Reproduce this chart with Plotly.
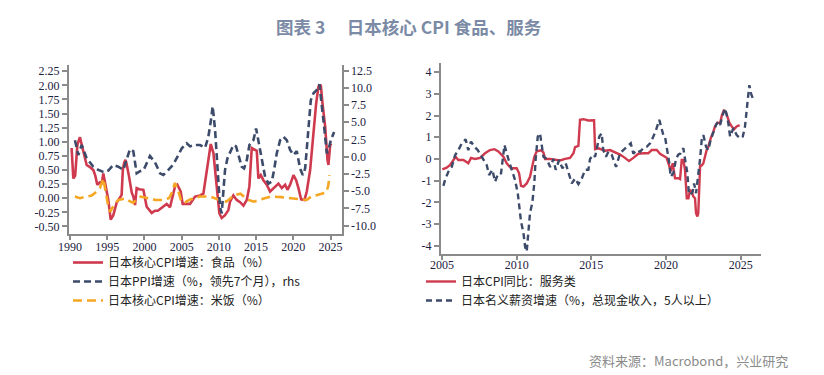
import plotly.graph_objects as go

W, H = 824, 375

# ---------------- Left chart data ----------------
food_x = [1990.22, 1990.45, 1990.7, 1991.0, 1991.34, 1991.7, 1992.24, 1992.7, 1993.14, 1993.4, 1993.67,
          1994.0, 1994.24, 1994.48, 1994.7, 1995.15, 1995.47, 1995.82, 1996.27, 1996.6, 1996.94, 1997.1,
          1997.26, 1997.45, 1997.62, 1997.9, 1998.3, 1998.51, 1998.74, 1998.96, 1999.3, 1999.86, 2000.3,
          2000.98, 2001.42, 2001.8, 2002.32, 2002.99, 2003.44, 2003.89, 2004.11, 2004.42, 2004.87, 2005.14,
          2005.68, 2006.13, 2006.8, 2007.47, 2007.92, 2008.37, 2008.91, 2009.27, 2009.71, 2010.07, 2010.38,
          2010.83, 2011.28, 2011.5, 2011.95, 2012.4, 2012.85, 2013.3, 2013.75, 2014.1, 2014.42, 2014.73,
          2015.09, 2015.31, 2015.63, 2015.98, 2016.43, 2016.88, 2017.33, 2018.0, 2018.45, 2018.9, 2019.21,
          2019.57, 2020.02, 2020.38, 2020.69, 2021.05, 2021.5, 2021.81, 2022.26, 2022.71, 2023.07, 2023.38,
          2023.69, 2023.92, 2024.28, 2024.59, 2024.72, 2024.95, 2025.1]
food_y = [0.89, 0.35, 0.40, 0.95, 1.08, 0.90, 0.59, 0.55, 0.50, 0.40, 0.24,
          0.28, 0.25, 0.44, 0.30, -0.03, -0.38, -0.30, -0.08, 0.00, 0.06, 0.50,
          0.62, 0.68, 0.60, 0.41, 0.10, 0.03, -0.12, 0.18, 0.16, 0.15, -0.15,
          -0.26, -0.22, -0.22, -0.16, -0.10, -0.16, 0.10, 0.21, 0.24, 0.12, -0.10,
          -0.10, -0.10, 0.03, 0.05, 0.08, 0.50, 0.96, 0.80, 0.15, -0.27, -0.35,
          -0.30, -0.21, -0.06, 0.05, -0.03, -0.07, -0.13, -0.03, 0.21, 0.89, 0.86,
          0.84, 0.35, 0.41, 0.32, 0.24, 0.12, 0.18, 0.26, 0.18, 0.24, 0.15,
          0.24, 0.41, 0.32, 0.18, -0.02, -0.03, 0.12, 0.50, 1.15, 1.68, 1.98,
          2.01, 1.68, 1.27, 0.68, 0.59, 0.94, 0.97]

ppi_x = [1990.67, 1991.12, 1991.57, 1992.24, 1993.14, 1993.81, 1994.48, 1995.15, 1995.82, 1996.49, 1997.17,
         1997.62, 1998.06, 1998.51, 1998.96, 1999.41, 1999.9, 2000.75, 2001.42, 2002.1, 2002.54, 2003.22,
         2003.89, 2004.56, 2005.0, 2005.68, 2006.13, 2006.8, 2007.47, 2008.15, 2008.59, 2008.91, 2009.17,
         2009.49, 2009.8, 2010.16, 2010.38, 2010.61, 2010.83, 2011.15, 2011.5, 2011.95, 2012.31, 2012.63,
         2013.07, 2013.39, 2013.75, 2014.1, 2014.64, 2015.0, 2015.31, 2015.76, 2016.21, 2016.66, 2017.11,
         2017.42, 2017.78, 2018.23, 2018.67, 2019.12, 2019.57, 2020.02, 2020.47, 2020.91, 2021.27, 2021.59,
         2021.81, 2022.04, 2022.35, 2022.71, 2023.16, 2023.51, 2023.83, 2024.14, 2024.5, 2024.72, 2025.04,
         2025.48]
ppi_y = [2.4, 0.25, 1.7, -0.2, -1.45, -1.9, -2.2, -2.0, -1.2, -1.45, -1.9,
         -0.5, 1.1, 0.8, -2.4, -2.1, -1.9, 0.1, -0.8, -2.4, -2.65, -1.9,
         -1.1, 0.25, 1.2, 1.95, 1.5, 1.7, 1.7, 1.3, 2.9, 5.1, 7.3,
         3.9, -1.9, -7.3, -8.2, -5.3, -1.9, -0.25, 0.7, 1.7, 1.5, 0.25,
         -1.45, -1.7, -0.5, 1.7, 2.4, 4.1, 2.4, -0.5, -2.9, -3.9, -3.6,
         -1.9, 0.5, 2.4, 2.9, 2.4, 1.0, 0.25, 0.8, -1.7, -2.65, -1.7,
         1.0, 4.35, 8.2, 9.2, 9.7, 10.5, 7.7, 4.35, 0.5, 1.0, 2.4,
         3.6]

rice_x = [1990.67, 1991.34, 1992.24, 1992.92, 1993.6, 1994.03, 1994.48, 1994.84, 1995.15, 1995.4, 1996.0,
          1996.5, 1997.5, 1998.0, 1998.5, 1999.5, 2000.5, 2001.5, 2002.5, 2003.3, 2003.7, 2004.1,
          2004.5, 2005.0, 2005.5, 2006.13, 2007.47, 2008.8, 2010.1, 2011.0, 2012.0, 2012.9, 2013.8,
          2014.7, 2015.6, 2017.0, 2018.4, 2019.7, 2021.1, 2021.8, 2022.4, 2023.1, 2024.0, 2024.4,
          2024.7, 2024.85]
rice_y = [0.03, 0.0, 0.03, 0.05, 0.12, 0.18, 0.35, 0.08, -0.15, -0.24, -0.10,
          -0.03, 0.0, -0.05, -0.08, 0.03, 0.0, -0.03, -0.03, 0.0, 0.10, 0.27,
          0.15, -0.07, -0.07, -0.02, 0.03, 0.03, -0.03, -0.06, 0.05, 0.08, -0.02,
          -0.06, -0.02, 0.03, 0.02, 0.0, -0.02, -0.03, 0.03, 0.05, 0.08, 0.10,
          0.22, 0.41]

# ---------------- Right chart data ----------------
serv_x = [2005.02, 2005.31, 2005.54, 2005.76, 2005.91, 2006.09, 2006.43, 2006.76, 2006.94, 2007.21, 2007.55,
          2007.88, 2008.21, 2008.51, 2008.77, 2009.11, 2009.33, 2009.62, 2010.0, 2010.16, 2010.29, 2010.45,
          2010.67, 2010.89, 2011.05, 2011.18, 2011.34, 2011.63, 2011.79, 2011.9, 2012.24, 2012.57, 2012.9,
          2013.24, 2013.57, 2013.8, 2013.91, 2014.13, 2014.24, 2014.47, 2014.8, 2015.18, 2015.25, 2015.47,
          2015.92, 2016.25, 2016.59, 2016.92, 2017.25, 2017.52, 2017.81, 2018.15, 2018.48, 2018.81, 2019.04,
          2019.38, 2019.6, 2019.87, 2020.04, 2020.22, 2020.31, 2020.45, 2020.54, 2020.6, 2020.82, 2020.94,
          2021.05, 2021.16, 2021.27, 2021.34, 2021.39, 2021.5, 2021.61, 2021.72, 2021.83, 2021.94, 2022.01,
          2022.1, 2022.16, 2022.28, 2022.39, 2022.5, 2022.61, 2022.72, 2022.83, 2022.99, 2023.17, 2023.28,
          2023.44, 2023.62, 2023.73, 2023.88, 2024.02, 2024.11, 2024.24, 2024.4, 2024.55, 2024.73, 2024.93]
serv_y = [-0.48, -0.4, -0.28, -0.05, 0.1, -0.05, -0.05, -0.2, 0.05, 0.0, 0.05,
          0.26, 0.41, 0.45, 0.35, 0.1, -0.2, -0.43, -0.43, -0.66, -1.24, -1.28,
          -1.13, -0.82, -0.37, 0.1, 0.35, 0.4, 0.3, 0.0, 0.0, -0.05, -0.07,
          0.0, 0.05, 0.26, 0.54, 0.6, 1.8, 1.83, 1.77, 1.78, 0.45, 0.49,
          0.38, 0.41, 0.3, 0.2, 0.05, -0.1, 0.05, 0.24, 0.26, 0.26, 0.41,
          0.41, 0.24, 0.1, 0.05, -0.33, -0.55, -0.2, -0.66, -0.89, -0.89, -0.93,
          -0.05, -0.05, -0.5, -1.28, -1.81, -1.81, -1.43, -1.5, -1.74, -1.81, -2.5,
          -2.65, -2.5, -0.33, -0.3, -0.2, 0.1, 0.41, 0.56, 0.95, 1.26, 1.5,
          1.67, 1.64, 1.98, 2.26, 2.14, 1.9, 1.67, 1.5, 1.36, 1.5, 1.56]

wage_x = [2005.09, 2005.2, 2005.42, 2005.65, 2005.87, 2006.09, 2006.32, 2006.58, 2006.76, 2006.94, 2007.17,
          2007.39, 2007.66, 2007.99, 2008.15, 2008.37, 2008.55, 2008.77, 2008.95, 2009.18, 2009.44, 2009.67,
          2009.89, 2010.07, 2010.16, 2010.29, 2010.45, 2010.56, 2010.67, 2010.78, 2010.89, 2011.05, 2011.18,
          2011.27, 2011.41, 2011.56, 2011.68, 2011.79, 2012.01, 2012.24, 2012.46, 2012.61, 2012.84, 2013.06,
          2013.28, 2013.46, 2013.69, 2013.91, 2014.13, 2014.36, 2014.58, 2014.8, 2014.91, 2015.14, 2015.25,
          2015.53, 2015.69, 2015.8, 2015.98, 2016.14, 2016.36, 2016.65, 2016.92, 2017.14, 2017.37, 2017.64,
          2017.81, 2018.04, 2018.26, 2018.48, 2018.71, 2018.93, 2019.15, 2019.33, 2019.55, 2019.65, 2019.82,
          2019.93, 2020.09, 2020.22, 2020.31, 2020.49, 2020.67, 2020.82, 2020.98, 2021.16, 2021.27, 2021.43,
          2021.52, 2021.61, 2021.79, 2021.88, 2022.01, 2022.16, 2022.28, 2022.39, 2022.5, 2022.68, 2022.83,
          2022.99, 2023.17, 2023.35, 2023.5, 2023.62, 2023.8, 2023.95, 2024.06, 2024.17, 2024.29, 2024.51,
          2024.73, 2024.96, 2025.14, 2025.29, 2025.45, 2025.58, 2025.7, 2025.85]
wage_y = [-1.24, -0.97, -0.59, -0.37, 0.17, 0.4, 0.72, 0.9, 0.4, 0.8, 0.56,
          0.41, 0.1, -0.28, -0.74, -0.5, -1.05, -0.66, -0.66, 0.64, 0.0, -0.5,
          -0.97, -1.58, -2.2, -2.89, -3.4, -4.04, -4.27, -3.5, -2.5, -2.0, -1.1,
          0.0, 1.03, 1.18, 0.72, 0.1, 0.0, -0.37, 0.0, -0.5, -0.05, -0.43,
          -0.2, -0.66, -1.13, -0.9, -1.16, -0.9, -0.5, -0.5, 0.0, 0.2, 0.1,
          1.03, 1.18, 0.4, 0.1, 0.33, 0.2, -0.37, 0.26, 0.41, 0.56, 0.72,
          0.24, 0.41, 0.33, 0.5, 0.56, 0.72, 1.03, 1.33, 1.8, 1.57, 1.1,
          1.03, 0.4, -0.2, -0.82, -0.66, 0.0, 0.2, 0.26, 0.5, 0.0, -0.66,
          -1.5, -1.66, -1.5, -1.13, -1.58, -0.74, 0.0, 0.88, 1.1, 0.56, 0.41,
          0.88, 1.26, 1.57, 1.72, 1.57, 2.03, 2.33, 2.03, 1.65, 1.03, 1.42,
          1.1, 0.95, 1.03, 1.5, 2.57, 3.4, 3.0, 2.72]

# ---------------- Tick labels ----------------
left_x_ticks = [1990, 1995, 2000, 2005, 2010, 2015, 2020, 2025]
left_y_ticks = [-0.5, -0.25, 0, 0.25, 0.5, 0.75, 1.0, 1.25, 1.5, 1.75, 2.0, 2.25]
left_y_text = ["-0.50", "-0.25", "0.00", "0.25", "0.50", "0.75", "1.00", "1.25", "1.50", "1.75", "2.00", "2.25"]
rhs_y_ticks = [-10, -7.5, -5, -2.5, 0, 2.5, 5, 7.5, 10, 12.5]
rhs_y_text = ["-10.0", "-7.5", "-5.0", "-2.5", "0.0", "2.5", "5.0", "7.5", "10.0", "12.5"]
right_x_ticks = [2005, 2010, 2015, 2020, 2025]
right_y_ticks = [-4, -3, -2, -1, 0, 1, 2, 3, 4]
right_y_text = ["-4", "-3", "-2", "-1", "0", "1", "2", "3", "4"]

RED = "#cf3a4e"
BLUE = "#3d4b6b"
ORANGE = "#f5a623"

fig = go.Figure()
fig.add_trace(go.Scatter(x=food_x, y=food_y, mode="lines", name="日本核心CPI增速：食品（%）",
                         line=dict(color=RED, width=2.6), xaxis="x", yaxis="y", legend="legend"))
fig.add_trace(go.Scatter(x=ppi_x, y=ppi_y, mode="lines", name="日本PPI增速（%，领先7个月），rhs",
                         line=dict(color=BLUE, width=2.6, dash="7px,4px"), xaxis="x", yaxis="y2", legend="legend"))
fig.add_trace(go.Scatter(x=rice_x, y=rice_y, mode="lines", name="日本核心CPI增速：米饭（%）",
                         line=dict(color=ORANGE, width=2.6, dash="9px,5px"), xaxis="x", yaxis="y", legend="legend"))
fig.add_trace(go.Scatter(x=serv_x, y=serv_y, mode="lines", name="日本CPI同比：服务类",
                         line=dict(color=RED, width=2.4), xaxis="x2", yaxis="y3", legend="legend2"))
fig.add_trace(go.Scatter(x=wage_x, y=wage_y, mode="lines", name="日本名义薪资增速（%，总现金收入，5人以上）",
                         line=dict(color=BLUE, width=2.4, dash="6px,4px"), xaxis="x2", yaxis="y3", legend="legend2"))

AX = "#8a8a8a"
TICKFONT = dict(family="Liberation Serif", size=12, color="#1c2140")
common = dict(showgrid=False, zeroline=False, showline=True, linecolor=AX, linewidth=2,
              ticks="outside", tickwidth=1.5, tickcolor=AX, tickfont=TICKFONT, automargin=False)

def px_x(p):
    return p / W

def px_y(p):
    return 1 - p / H

LEGFONT = dict(family="Noto Sans CJK SC", size=12, color="#222222")

fig.update_layout(
    width=W, height=H,
    margin=dict(l=0, r=0, t=0, b=0, pad=0),
    paper_bgcolor="white", plot_bgcolor="white",
    xaxis=dict(domain=[px_x(69), px_x(341.7)], range=[1989.87, 2026.5], anchor="y", ticklen=4,
               ticklabelstandoff=-3,
               tickmode="array", tickvals=left_x_ticks, ticktext=[str(v) for v in left_x_ticks], **common),
    yaxis=dict(domain=[px_y(234), px_y(65)], range=[-0.633, 2.36], anchor="x", ticklen=5,
               tickmode="array", tickvals=left_y_ticks, ticktext=left_y_text, **common),
    yaxis2=dict(range=[-11.2, 13.3], overlaying="y", side="right", anchor="x", ticklen=5,
                tickmode="array", tickvals=rhs_y_ticks, ticktext=rhs_y_text, **common),
    xaxis2=dict(domain=[px_x(441), px_x(761)], range=[2004.93, 2026.36], anchor="y3", ticklen=4,
                ticklabelstandoff=-5,
                tickmode="array", tickvals=right_x_ticks, ticktext=[str(v) for v in right_x_ticks], **common),
    yaxis3=dict(domain=[px_y(254), px_y(63)], range=[-4.38, 4.42], anchor="x2", ticklen=5,
                tickmode="array", tickvals=right_y_ticks, ticktext=right_y_text, **common),
    legend=dict(x=px_x(68), y=px_y(248), xanchor="left", yanchor="top", bgcolor="rgba(0,0,0,0)",
                font=LEGFONT, itemwidth=30, tracegroupgap=0),
    legend2=dict(x=px_x(421), y=px_y(267), xanchor="left", yanchor="top", bgcolor="rgba(0,0,0,0)",
                 font=LEGFONT, itemwidth=30, tracegroupgap=0),
    showlegend=True,
    annotations=[
        dict(text="<b>图表 3　 日本核心 CPI 食品、服务</b>", x=px_x(408), y=px_y(27), xref="paper", yref="paper",
             showarrow=False, xanchor="center", yanchor="middle",
             font=dict(family="Noto Sans CJK SC", size=17.5, color="#7b8aa5")),
        dict(text="资料来源：Macrobond，兴业研究", x=px_x(790), y=px_y(360), xref="paper", yref="paper",
             showarrow=False, xanchor="right", yanchor="middle",
             font=dict(family="Noto Sans CJK SC", size=13, color="#8a8a8a")),
    ],
)

fig.write_html("out.html", config={"displayModeBar": False},
               post_script="document.body.style.margin='0';")
